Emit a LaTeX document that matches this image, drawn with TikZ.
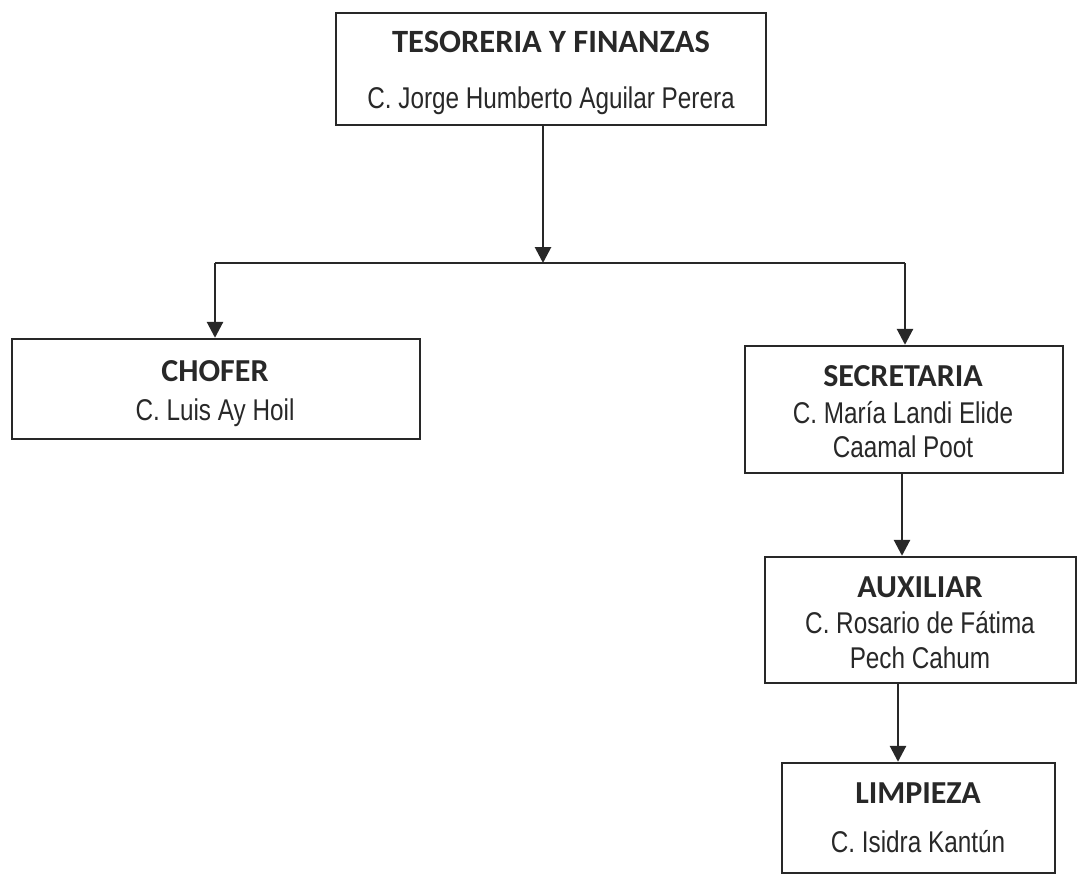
\documentclass[tikz,border=0pt]{standalone}
\usepackage{fontspec}
\usetikzlibrary{arrows.meta}
\newfontfamily\headfont{Carlito}
\newfontfamily\namefont{Liberation Sans}[FakeStretch=0.81]
\definecolor{ink}{RGB}{40,40,40}
\tikzset{
  box/.style={draw=ink, line width=2.4pt, inner sep=0pt},
  head/.style={anchor=base, inner sep=0pt, text=ink, font=\headfont\bfseries\fontsize{32}{32}\selectfont},
  bighead/.style={head, font=\headfont\bfseries\fontsize{32.5}{32.5}\selectfont},
  who/.style={anchor=base, inner sep=0pt, text=ink, font=\namefont\fontsize{30}{30}\selectfont},
  conn/.style={draw=ink, line width=2.8pt},
  arr/.style={conn, -{Triangle[length=16pt,width=16pt]}},
}
\begin{document}
\begin{tikzpicture}[x=1pt,y=-1pt]
\useasboundingbox (0,0) rectangle (1077,875);
\clip (0,0) rectangle (1077,875);
% boxes
\node[box, minimum width=430pt, minimum height=112pt] (top) at (551,69) {};
\node[box, minimum width=408pt, minimum height=100pt] (chofer) at (216,389) {};
\node[box, minimum width=318pt, minimum height=127pt] (secre) at (904,409.5) {};
\node[box, minimum width=311pt, minimum height=126pt] (aux) at (920.5,620) {};
\node[box, minimum width=273pt, minimum height=110pt] (limp) at (918.5,818) {};
% texts
\node[bighead] (toph) at (551,53) {TESORERIA Y FINANZAS};
\node[who] (topn) at (551,108) {C. Jorge Humberto Aguilar Perera};
\node[head] (chofh) at (215,381) {CHOFER};
\node[who] (chofn) at (215,420) {C. Luis Ay Hoil};
\node[head] (secreh) at (903,386) {SECRETARIA};
\node[who] (secren1) at (903,423) {C. María Landi Elide};
\node[who] (secren2) at (903,457) {Caamal Poot};
\node[head] (auxh) at (920,597) {AUXILIAR};
\node[who] (auxn1) at (920,633) {C. Rosario de Fátima};
\node[who] (auxn2) at (920,668) {Pech Cahum};
\node[head] (limph) at (918,803) {LIMPIEZA};
\node[who] (limpn) at (918,852) {C. Isidra Kantún};
% connectors
\coordinate (j) at (543,263);
\coordinate (jl) at (215,263);
\coordinate (jr) at (905,263);
\draw[arr] (top.south -| j) -- (j);
\draw[conn] (jl) -- (jr);
\draw[arr] (jl) -- (chofer.north -| jl);
\draw[arr] (jr) -- (secre.north -| jr);
\draw[arr] (secre.south -| 902,0) -- (aux.north -| 902,0);
\draw[arr] (aux.south -| 898,0) -- (limp.north -| 898,0);
\end{tikzpicture}
\end{document}
